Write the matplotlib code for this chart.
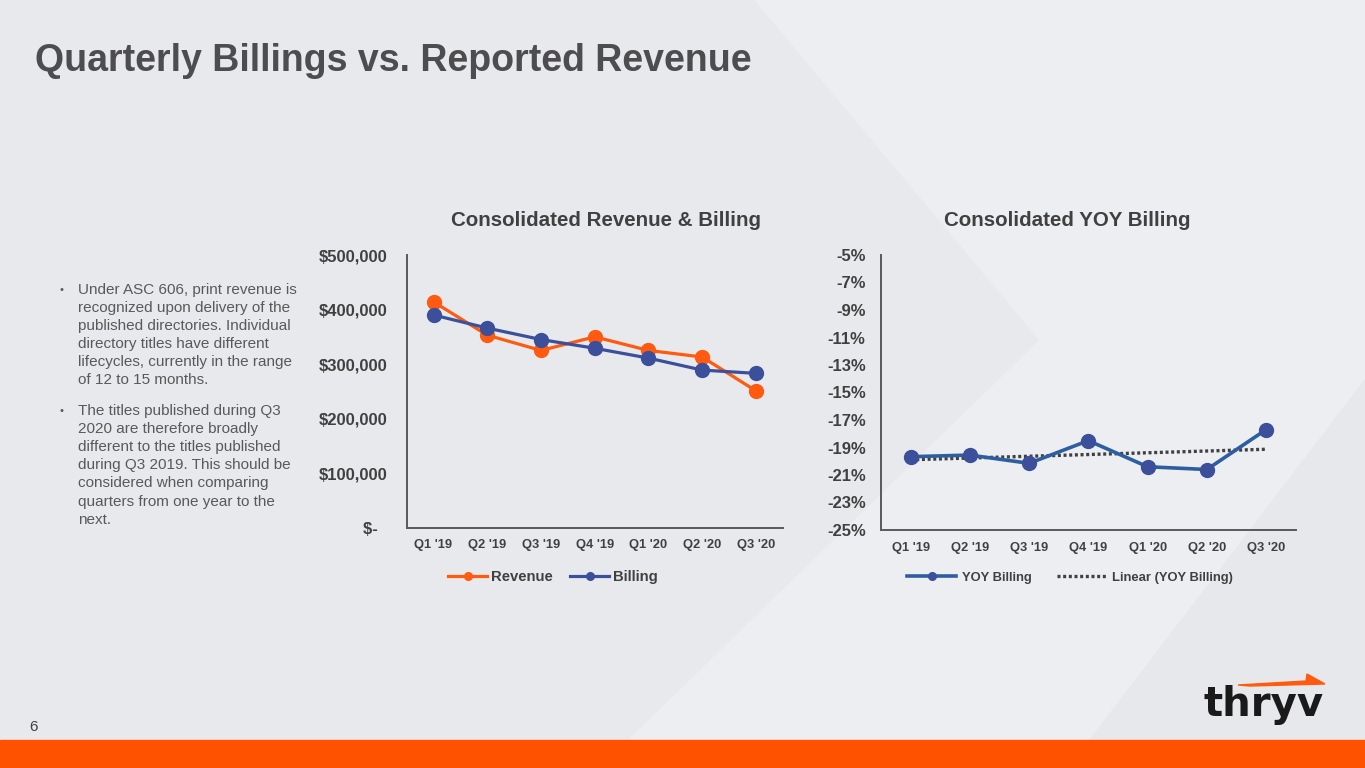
import matplotlib
matplotlib.use("Agg")
import matplotlib.pyplot as plt
import numpy as np
from matplotlib.patches import Polygon, Rectangle
from matplotlib.ticker import FuncFormatter

plt.rcParams['font.family'] = ['Liberation Sans', 'DejaVu Sans']

# data
quarters = ["Q1 '19", "Q2 '19", "Q3 '19", "Q4 '19", "Q1 '20", "Q2 '20", "Q3 '20"]
revenue = [414000, 353000, 325000, 350000, 325000, 313000, 251000]
billing = [390000, 366000, 345000, 329000, 311000, 289000, 283000]
yoy_billing = [-19.67, -19.55, -20.15, -18.5, -20.4, -20.6, -17.7]

bullet_1 = ["Under ASC 606, print revenue is",
            "recognized upon delivery of the",
            "published directories. Individual",
            "directory titles have different",
            "lifecycles, currently in the range",
            "of 12 to 15 months."]
bullet_2 = ["The titles published during Q3",
            "2020 are therefore broadly",
            "different to the titles published",
            "during Q3 2019. This should be",
            "considered when comparing",
            "quarters from one year to the",
            "next."]

W, H = 1365, 768
DARK = '#404040'
ORANGE = '#FF5A0F'
NAVY = '#3B4F9B'
STEEL = '#2D5E9F'

fig = plt.figure(figsize=(W / 100, H / 100), dpi=100)

# slide background, drawn in pixel coordinates
bg = fig.add_axes([0, 0, 1, 1], zorder=-10)
bg.set_xlim(0, W)
bg.set_ylim(H, 0)
bg.axis('off')
bg.add_patch(Rectangle((0, 0), W, H, color='#E8E9EC', zorder=0))
bg.add_patch(Polygon([(755, 0), (W, 0), (W, H), (600, H), (1040, 340)],
                     closed=True, color='#EDEEF1', zorder=1))
bg.add_patch(Polygon([(1090, 740), (W, 380), (W, 740)],
                     closed=True, color='#E7E8EB', zorder=2))
bg.add_patch(Rectangle((0, 740), W, 28, color='#FE5200', zorder=3))

bg.text(35, 71, "Quarterly Billings vs. Reported Revenue", fontsize=27,
        fontweight='bold', color='#4D4D4F', va='baseline', ha='left')

# bullet text
y = 290
for i, line in enumerate(bullet_1):
    if i == 0:
        bg.text(62, y, "\u2022", fontsize=8, color='#595959', va='center', ha='center')
    bg.text(78, y, line, fontsize=11, color='#595959', va='center', ha='left')
    y += 18
y = 411
for i, line in enumerate(bullet_2):
    if i == 0:
        bg.text(62, y, "\u2022", fontsize=8, color='#595959', va='center', ha='center')
    bg.text(78, y, line, fontsize=11, color='#595959', va='center', ha='left')
    y += 18.1

bg.text(33, 727, "6", fontsize=11, color='#404040', va='center', ha='center')

# logo
bg.text(1204, 716, "thryv", fontsize=29, fontweight='bold', color='#1A1A1A',
        family='DejaVu Sans', va='baseline', ha='left')
bg.add_patch(Polygon([(1238, 685), (1306, 681), (1307, 674), (1325, 684), (1250, 686)],
                     closed=True, color='#FF5A0F', zorder=5))

bg.text(606, 220, "Consolidated Revenue & Billing", fontsize=14.8,
        fontweight='bold', color=DARK, va='center', ha='center')
bg.text(1067, 220, "Consolidated YOY Billing", fontsize=14.8,
        fontweight='bold', color=DARK, va='center', ha='center')


def style_axis(ax):
    ax.set_facecolor('none')
    for s in ['top', 'right']:
        ax.spines[s].set_visible(False)
    for s in ['left', 'bottom']:
        ax.spines[s].set_color('#595959')
        ax.spines[s].set_linewidth(1.4)
    ax.tick_params(length=0)
    for lab in ax.get_yticklabels():
        lab.set_fontweight('bold')
        lab.set_color(DARK)
        lab.set_fontsize(12)
    for lab in ax.get_xticklabels():
        lab.set_fontweight('bold')
        lab.set_color(DARK)
        lab.set_fontsize(9.3)


x = np.arange(len(quarters))

# left chart
ax1 = fig.add_axes([406.7 / W, 1 - 527.7 / H, 376 / W, 272.7 / H])
ax1.plot(x, revenue, color=ORANGE, lw=2.3, marker='o', ms=10, label='Revenue')
ax1.plot(x, billing, color=NAVY, lw=2.3, marker='o', ms=10, label='Billing')
ax1.set_xlim(-0.5, 6.5)
ax1.set_ylim(0, 500000)
ax1.set_yticks(np.arange(0, 500001, 100000))
ax1.yaxis.set_major_formatter(FuncFormatter(lambda v, p: "$-  " if v == 0 else f"${v:,.0f}"))
ax1.set_xticks(x)
ax1.set_xticklabels(quarters)
ax1.tick_params(axis='y', pad=14)
ax1.tick_params(axis='x', pad=8)
style_axis(ax1)
leg1 = ax1.legend(loc='center', bbox_to_anchor=(553 / W, 1 - 577 / H),
                  bbox_transform=fig.transFigure, ncol=2, frameon=False,
                  fontsize=10.7, handlelength=2.6, handletextpad=0.25,
                  columnspacing=1.2, markerscale=0.55)
for t in leg1.get_texts():
    t.set_fontweight('bold')
    t.set_color(DARK)

# right chart
ax2 = fig.add_axes([881 / W, 1 - 530 / H, 414.7 / W, 275 / H])
coef = np.polyfit(x, yoy_billing, 1)
ax2.plot(x, np.polyval(coef, x), color=DARK, lw=2.4, linestyle=(0, (0.9, 0.8)),
         label='Linear (YOY Billing)', zorder=2)
ax2.plot(x, yoy_billing, color=STEEL, lw=2.6, marker='o', ms=10,
         markerfacecolor=NAVY, markeredgecolor=NAVY, label='YOY Billing', zorder=3)
ax2.set_xlim(-0.5, 6.5)
ax2.set_ylim(-25, -5)
ax2.set_yticks(np.arange(-25, -4, 2))
ax2.yaxis.set_major_formatter(FuncFormatter(lambda v, p: f"{v:.0f}%"))
ax2.set_xticks(x)
ax2.set_xticklabels(quarters)
ax2.tick_params(axis='y', pad=11)
ax2.tick_params(axis='x', pad=9)
style_axis(ax2)
handles, labels = ax2.get_legend_handles_labels()
leg2 = ax2.legend(handles[::-1], labels[::-1], loc='center',
                  bbox_to_anchor=(1070 / W, 1 - 578 / H),
                  bbox_transform=fig.transFigure, ncol=2, frameon=False,
                  fontsize=9.4, handlelength=3.8, handletextpad=0.4,
                  columnspacing=2.0, markerscale=0.55)
for t in leg2.get_texts():
    t.set_fontweight('bold')
    t.set_color(DARK)

fig.savefig("out.png", dpi=100)
